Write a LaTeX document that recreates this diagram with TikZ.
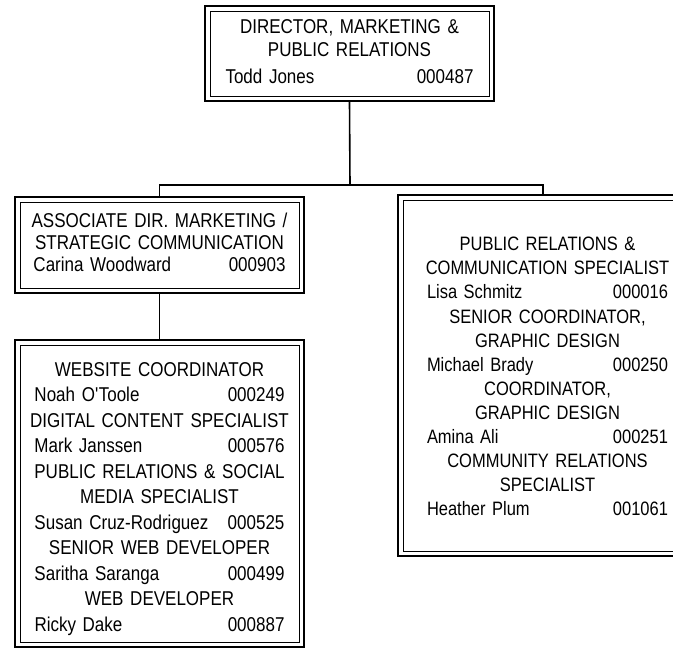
\documentclass[tikz,border=0pt]{standalone}
\usepackage{fontspec}
\setmainfont{Liberation Sans}[FakeStretch=0.85]
\usepackage{tikz}

\newlength{\staffwd}
\newcommand{\staff}[2]{\makebox[\staffwd]{#1\hfill#2}}

\begin{document}
\begin{tikzpicture}[x=1pt, y=-1pt,
    staffbox/.style={draw, line width=2pt, outer sep=0pt, inner sep=0pt,
      align=center, minimum width=289pt, text width=276pt},
    staffwidth/.code={\setlength{\staffwd}{#1}},
    innerline/.style={line width=1pt},
    link/.style={line width=1.6pt}]
  % Define the frame and the split point
  \clip (0,0) rectangle (673,649);
  \coordinate (split) at (350,185);

  % Draw the director box
  \node[staffbox, minimum height=95pt, staffwidth=248pt, text depth=53pt,
    font=\fontsize{20}{24}\selectfont] (dir) at (349.5,53.5)
  {DIRECTOR, MARKETING \&\\[-1.3pt] PUBLIC RELATIONS\\[3pt]
    \staff{Todd Jones}{000487}};

  % Draw the associate director box
  \node[staffbox, minimum height=96pt, staffwidth=252pt, text depth=48.6pt,
    font=\fontsize{20}{21.7}\selectfont] (assoc) at (159.5,245)
  {ASSOCIATE DIR. MARKETING /\\ STRATEGIC COMMUNICATION\\
    \staff{Carina Woodward}{000903}};

  % Draw the web team box
  \node[staffbox, minimum height=307pt, staffwidth=250pt, text depth=248pt,
    font=\fontsize{20}{25.5}\selectfont] (web) at (159.5,493.5)
  {WEBSITE COORDINATOR\\ \staff{Noah O\textquotesingle Toole}{000249}\\
    DIGITAL CONTENT SPECIALIST\\ \staff{Mark Janssen}{000576}\\
    PUBLIC RELATIONS \& SOCIAL\\ MEDIA SPECIALIST\\
    \staff{Susan Cruz-Rodriguez}{000525}\\
    SENIOR WEB DEVELOPER\\ \staff{Saritha Saranga}{000499}\\
    WEB DEVELOPER\\ \staff{Ricky Dake}{000887}};

  % Draw the public relations box
  \node[staffbox, minimum width=299pt, minimum height=361pt, staffwidth=241pt,
    text depth=263pt, font=\fontsize{19.4}{24.1}\selectfont] (pr) at (547.5,375.5)
  {PUBLIC RELATIONS \&\\ COMMUNICATION SPECIALIST\\
    \staff{Lisa Schmitz}{000016}\\
    SENIOR COORDINATOR,\\ GRAPHIC DESIGN\\ \staff{Michael Brady}{000250}\\
    COORDINATOR,\\ GRAPHIC DESIGN\\ \staff{Amina Ali}{000251}\\
    COMMUNITY RELATIONS\\ SPECIALIST\\ \staff{Heather Plum}{001061}};

  % Draw the inner frames
  \foreach \b in {dir, assoc, web, pr}
    \draw[innerline] ([shift={(5pt,5pt)}]\b.south west)
      rectangle ([shift={(-5pt,-5pt)}]\b.north east);

  % Draw the connectors
  \draw[link] (dir.south) -- (split);
  \draw[link] (assoc.north) |- (split) -| ([xshift=-4.5pt]pr.north);
  \draw[link] (assoc.south) -- (web.north);
\end{tikzpicture}
\end{document}
